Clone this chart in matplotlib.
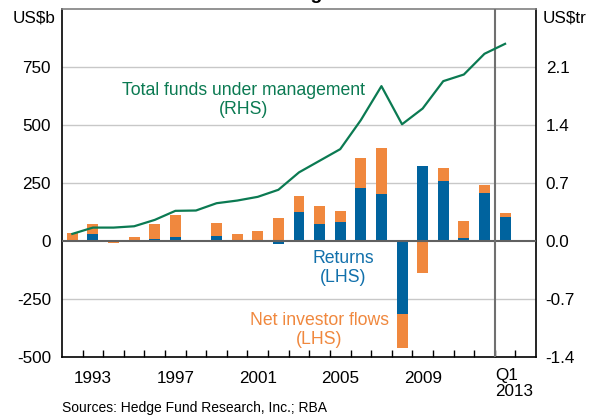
import matplotlib
matplotlib.use("Agg")
import matplotlib.pyplot as plt

plt.rcParams['font.family'] = ['Liberation Sans', 'DejaVu Sans']

years = [1992, 1993, 1994, 1995, 1996, 1997, 1998, 1999, 2000, 2001, 2002,
         2003, 2004, 2005, 2006, 2007, 2008, 2009, 2010, 2011, 2012, 2013]
# US$b, LHS
returns = [7, 33, -2, 3, 11, 16, 1, 24, 7, 1, -14,
           124, 75, 83, 230, 205, -313, 325, 260, 14, 208, 105]
flows = [30, 39, -4, 17, 61, 96, 6, 56, 26, 45, 102,
         71, 77, 48, 129, 197, -148, -135, 56, 74, 35, 17]
# US$tr, RHS
funds = [0.088, 0.164, 0.164, 0.18, 0.257, 0.366, 0.37, 0.458, 0.49, 0.535, 0.62,
         0.83, 0.97, 1.11, 1.46, 1.87, 1.41, 1.60, 1.93, 2.01, 2.26, 2.38]

xtick_pos = [1993, 1997, 2001, 2005, 2009]
left_ticks = [-500, -250, 0, 250, 500, 750]
right_ticks = [-1.4, -0.7, 0.0, 0.7, 1.4, 2.1]

blue = '#00639e'
orange = '#f0883e'
green = '#0b7a52'

fig = plt.figure(figsize=(5.97, 4.17), dpi=100)
ax = fig.add_axes([0.1039, 0.1432, 0.7939, 0.8352])

for v in [-250, 250, 500, 750]:
    ax.axhline(v, color='#c8c8c8', linewidth=1.0, zorder=0)
ax.axhline(0, color='#606060', linewidth=1.5, zorder=3)
ax.axvline(2012.5, color='#707070', linewidth=1.5, zorder=3)

# flows stack on returns when both have the same sign
flow_base = [r if (r * f > 0) else 0 for r, f in zip(returns, flows)]
ax.bar(years, returns, width=0.53, color=blue, zorder=2)
ax.bar(years, flows, width=0.53, bottom=flow_base, color=orange, zorder=2)

ax.set_xlim(1991.5, 2014.5)
ax.set_ylim(-500, 1000)
ax.set_yticks(left_ticks)
ax.set_yticklabels([str(v) for v in left_ticks])
ax.tick_params(axis='y', length=0, pad=8, labelsize=12.3)
ax.set_xticks(xtick_pos)
ax.set_xticklabels([str(v) for v in xtick_pos])
ax.set_xticks([y + 0.5 for y in years], minor=True)
ax.tick_params(axis='x', which='major', length=0, pad=10, labelsize=12.3)
ax.tick_params(axis='x', which='minor', direction='in', length=5, width=1, color='black')
ax.text(2012.5, -545, 'Q1\n2013', ha='left', va='top', fontsize=12.3, linespacing=1.1)

for s in ['left', 'right', 'bottom']:
    ax.spines[s].set_color('black')
    ax.spines[s].set_linewidth(1.2)
ax.spines['top'].set_color('#808080')
ax.spines['top'].set_linewidth(1.2)

ax2 = ax.twinx()
ax2.plot(years, funds, color=green, linewidth=1.6)
ax2.set_ylim(-1.4, 2.8)
ax2.set_yticks(right_ticks)
ax2.set_yticklabels(['%.1f' % v for v in right_ticks])
ax2.tick_params(axis='y', length=0, pad=7, labelsize=12.3)
for s in ax2.spines.values():
    s.set_visible(False)

ax.text(2000.3, 609, 'Total funds under management\n(RHS)', color=green,
        ha='center', va='center', fontsize=12.7, linespacing=1.15)
ax.text(2005.13, -115, 'Returns\n(LHS)', color='#1170ab',
        ha='center', va='center', fontsize=12.7, linespacing=1.15)
ax.text(2004.0, -382, 'Net investor flows\n(LHS)', color=orange,
        ha='center', va='center', fontsize=12.7, linespacing=1.15)

fig.text(13 / 597, 1 - 18 / 417, 'US$b', ha='left', va='center', fontsize=12.3)
fig.text(543 / 597, 1 - 18 / 417, 'US$tr', ha='left', va='center', fontsize=12.3)
fig.text(62 / 597, 1 - 408 / 417, 'Sources: Hedge Fund Research, Inc.; RBA',
         ha='left', va='center', fontsize=10)
fig.text(303 / 597, 1.0025, 'Global Hedge Funds', ha='center', va='baseline',
         fontsize=14, fontweight='bold')

fig.savefig('out.png', dpi=100)
